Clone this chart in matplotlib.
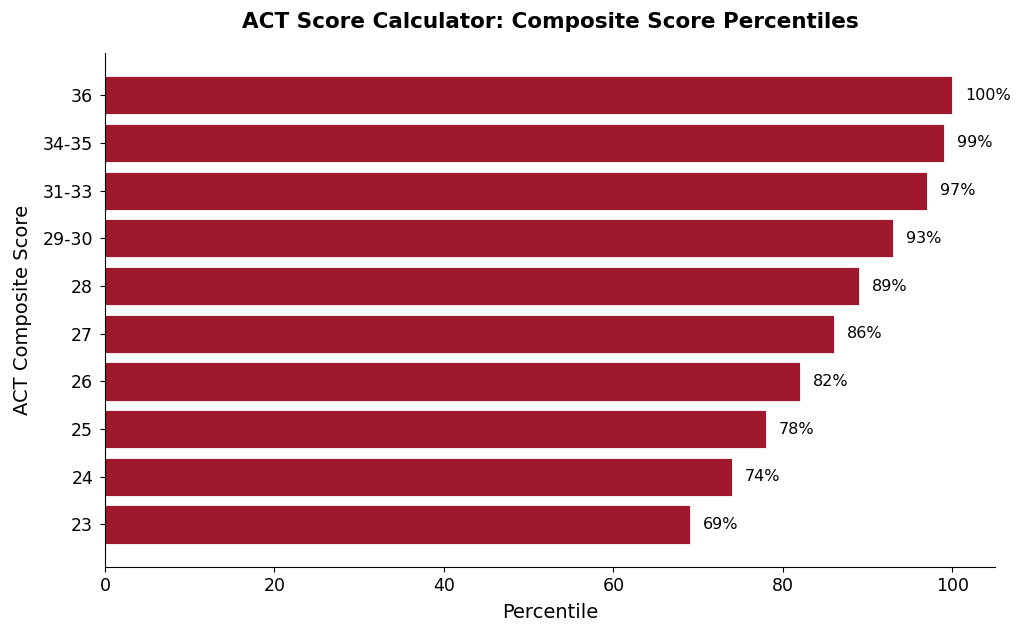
import matplotlib.pyplot as plt

scores = ["23", "24", "25", "26", "27", "28", "29-30", "31-33", "34-35", "36"]
percentiles = [69, 74, 78, 82, 86, 89, 93, 97, 99, 100]

fig = plt.figure(figsize=(10.24, 6.37), dpi=100)
ax = fig.add_axes([0.1025, 0.110, 0.869, 0.807])

bars = ax.barh(scores, percentiles, height=0.8, color="#A0182C", edgecolor="white", linewidth=0.6)
for b, v in zip(bars, percentiles):
    ax.text(v + 1.5, b.get_y() + b.get_height() / 2, f"{v}%", va="center", ha="left", fontsize=11.5)

ax.set_xlim(0, 105)
ax.set_xlabel("Percentile", fontsize=14, labelpad=6)
ax.set_ylabel("ACT Composite Score", fontsize=14, labelpad=8)
ax.set_title("ACT Score Calculator: Composite Score Percentiles", fontsize=15.5, fontweight="bold", pad=18)
ax.tick_params(labelsize=12.5)
ax.tick_params(axis="y", pad=5)
ax.spines["top"].set_visible(False)
ax.spines["right"].set_visible(False)

fig.savefig("out.png", dpi=100)
